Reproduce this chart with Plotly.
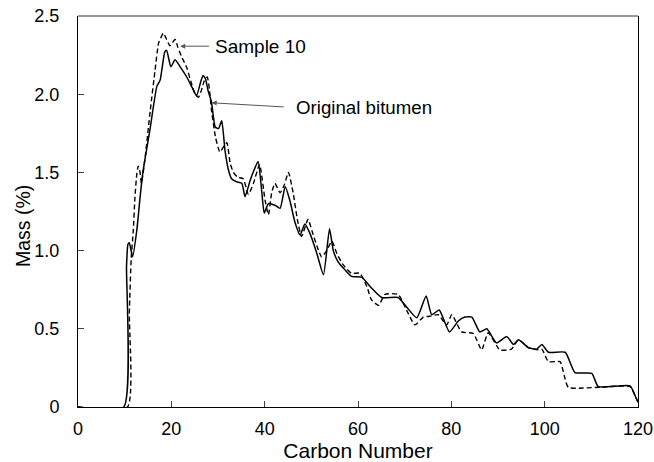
import plotly.graph_objects as go

# Original bitumen (solid)
orig_x = [0, 9.8, 10.4, 10.7, 11.0, 11.7, 12.6, 13.3, 13.9, 15.4, 16.9, 17.6, 18.6, 19.0,
          19.9, 20.8, 21.9, 23.3, 24.5, 25.4, 26.3, 26.8, 27.3, 27.9, 28.6, 29.4, 30.1,
          30.8, 31.5, 32.2, 32.9, 34.0, 35.1, 35.8, 36.9, 37.8, 38.6, 39.4, 39.9, 40.8,
          42.2, 43.3, 44.4, 45.4, 46.5, 47.6, 48.6, 49.7, 51.1, 52.6, 53.9, 54.7, 55.7,
          56.8, 58.6, 60.8, 62.6, 65.1, 68.6, 70.4, 72.6, 74.6, 75.8, 77.4, 79.6, 81.5,
          82.9, 84.4, 86.1, 87.6, 89.7, 91.9, 93.3, 94.4, 96.5, 98.3, 99.4, 100.8, 104.4,
          106.5, 110.1, 111.5, 118.3, 119.4, 120]
orig_y = [0, 0, 0.9, 1.04, 1.05, 0.96, 1.13, 1.34, 1.5, 1.77, 2.05, 2.09, 2.27, 2.28,
          2.175, 2.22, 2.175, 2.11, 2.04, 1.99, 2.08, 2.12, 2.10, 2.02, 1.95, 1.79, 1.78,
          1.83, 1.64, 1.52, 1.46, 1.44, 1.43, 1.345, 1.45, 1.52, 1.57, 1.37, 1.24, 1.30,
          1.29, 1.27, 1.41, 1.32, 1.18, 1.10, 1.17, 1.11, 0.99, 0.845, 1.14, 1.00, 0.93,
          0.89, 0.835, 0.83, 0.77, 0.70, 0.70, 0.64, 0.57, 0.71, 0.59, 0.62, 0.48, 0.55,
          0.575, 0.575, 0.48, 0.50, 0.41, 0.45, 0.40, 0.43, 0.38, 0.37, 0.40, 0.35, 0.35,
          0.22, 0.215, 0.13, 0.135, 0.07, 0.03]

# Sample 10 (dashed)
samp_x = [0, 10.6, 11.0, 11.4, 11.85, 12.2, 12.6, 12.9, 13.3, 13.6, 14.4, 15.5, 16.5,
          17.3, 18.3, 19.0, 19.7, 20.8, 21.4, 22.2, 23.3, 24.2, 25.1, 25.8, 26.5, 27.0,
          27.7, 28.2, 28.6, 29.5, 30.4, 31.1, 31.9, 32.6, 33.3, 34.2, 35.4, 36.5, 37.6,
          38.9, 40.1, 40.8, 41.5, 42.2, 43.3, 44.2, 45.1, 46.1, 47.0, 47.9, 49.3, 50.2,
          51.2, 52.2, 53.3, 54.4, 55.5, 56.8, 58.6, 60.4, 61.9, 62.9, 64.4, 65.8, 68.6,
          70.4, 72.2, 74.0, 75.4, 77.2, 79.0, 80.1, 82.2, 84.7, 86.5, 87.9, 90.4, 92.9,
          94.4, 96.5, 98.6, 99.4, 100.8, 103.3, 104.2, 105.1, 118.3, 119.4, 120]
samp_y = [0, 0, 0.6, 0.95, 1.13, 1.34, 1.49, 1.54, 1.5, 1.43, 1.6, 1.9, 2.15,
          2.33, 2.39, 2.35, 2.31, 2.35, 2.3, 2.24, 2.17, 2.08, 2.0, 1.98, 2.03, 2.08,
          2.11, 2.02, 1.9, 1.72, 1.63, 1.66, 1.69, 1.56, 1.50, 1.47, 1.46, 1.36, 1.43,
          1.55, 1.32, 1.23, 1.37, 1.43, 1.37, 1.42, 1.50, 1.37, 1.2, 1.09, 1.20, 1.12,
          1.03, 0.96, 1.0, 1.06, 0.98, 0.91, 0.855, 0.855, 0.77, 0.685, 0.65, 0.72, 0.72,
          0.62, 0.525, 0.575, 0.58, 0.59, 0.525, 0.59, 0.48, 0.47, 0.365, 0.475, 0.365, 0.37,
          0.43, 0.38, 0.365, 0.37, 0.29, 0.29, 0.2, 0.125, 0.13, 0.07, 0.03]

x_ticks = [0, 20, 40, 60, 80, 100, 120]
y_ticks = [0, 0.5, 1.0, 1.5, 2.0, 2.5]
y_tick_labels = ["0", "0.5", "1.0", "1.5", "2.0", "2.5"]

FONT = "Liberation Sans, Arial, sans-serif"

fig = go.Figure()
fig.add_trace(go.Scatter(x=samp_x, y=samp_y, mode="lines", name="Sample 10",
                         line=dict(color="black", width=1.4, dash="5px,3px",
                                   shape="spline", smoothing=0.5)))
fig.add_trace(go.Scatter(x=orig_x, y=orig_y, mode="lines", name="Original bitumen",
                         line=dict(color="black", width=1.5, shape="spline", smoothing=0.5)))

# annotations
fig.add_annotation(x=21.9, y=2.307, ax=28.4, ay=2.307, xref="x", yref="y",
                   axref="x", ayref="y", text="", showarrow=True,
                   arrowhead=2, arrowsize=1, arrowwidth=1, arrowcolor="#555")
fig.add_annotation(x=28.9, y=2.307, xref="x", yref="y", text="Sample 10",
                   showarrow=False, xanchor="left", yanchor="middle",
                   font=dict(family=FONT, size=19, color="black"))
fig.add_annotation(x=28.65, y=1.945, ax=44.4, ay=1.918, xref="x", yref="y",
                   axref="x", ayref="y", text="", showarrow=True,
                   arrowhead=2, arrowsize=1, arrowwidth=1, arrowcolor="#555")
fig.add_annotation(x=46.3, y=1.918, xref="x", yref="y", text="Original bitumen",
                   showarrow=False, xanchor="left", yanchor="middle",
                   font=dict(family=FONT, size=18.7, color="black"))

# y-axis title placed as in the reference (slightly below the plot centre)
fig.add_annotation(x=-0.098, y=0.463, xref="paper", yref="paper", text="Mass (%)",
                   textangle=-90, showarrow=False, xanchor="center", yanchor="middle",
                   font=dict(family=FONT, size=19.5, color="black"))

# grey top frame line
fig.add_shape(type="line", xref="paper", yref="paper", x0=0, x1=1, y0=1, y1=1,
              line=dict(color="#777", width=1.5))

fig.update_layout(
    width=654, height=462,
    margin=dict(l=78, r=16, t=16, b=55, autoexpand=False),
    paper_bgcolor="white", plot_bgcolor="white",
    showlegend=False,
    font=dict(family=FONT, size=18, color="black"),
    xaxis=dict(range=[0, 120], tickvals=x_ticks, ticks="inside", ticklen=6,
               showgrid=False, zeroline=False, showline=True, linecolor="black",
               linewidth=1, mirror=False, automargin=False, ticklabelstandoff=5,
               title=dict(text="Carbon Number", font=dict(size=21), standoff=3),
               tickfont=dict(size=18)),
    yaxis=dict(range=[0, 2.5], tickvals=y_ticks, ticktext=y_tick_labels,
               ticks="inside", ticklen=6, automargin=False, ticklabelstandoff=14,
               showgrid=False, zeroline=False, showline=True, linecolor="black",
               linewidth=1, mirror=True, tickfont=dict(size=18)),
)

fig.write_html("out.html")
